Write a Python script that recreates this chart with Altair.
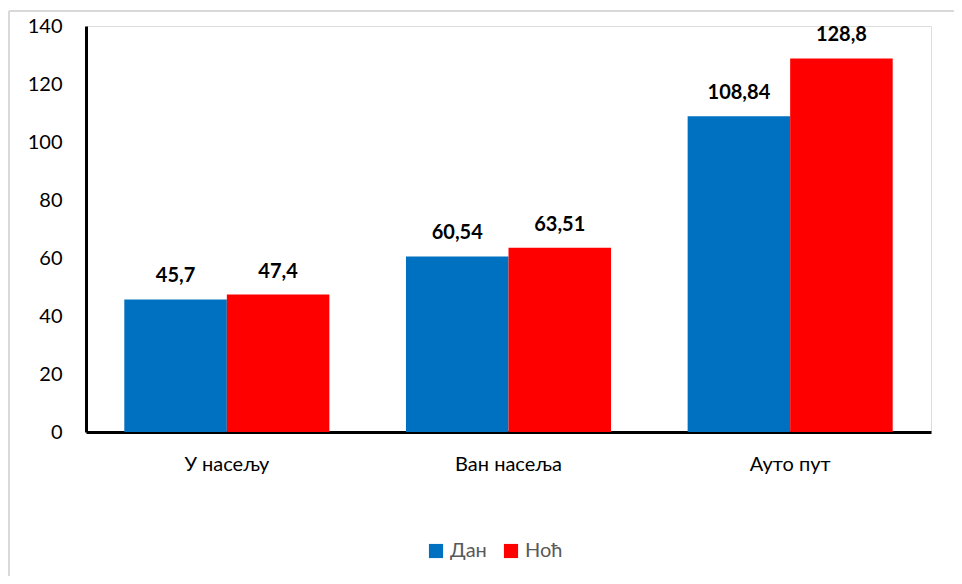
import altair as alt
import pandas as pd

categories = ["У насељу", "Ван насеља", "Ауто пут"]
series = ["Дан", "Ноћ"]
dan = [45.7, 60.54, 108.84]
noc = [47.4, 63.51, 128.8]
y_ticks = [0, 20, 40, 60, 80, 100, 120, 140]
colors = ["#0070C0", "#FF0000"]

rows = []
for c, d, n in zip(categories, dan, noc):
    rows.append({"cat": c, "series": series[0], "value": d})
    rows.append({"cat": c, "series": series[1], "value": n})
df = pd.DataFrame(rows)

W, H = 845, 406
FONT = "Lato"

base = alt.Chart(df).encode(
    x=alt.X("cat:N", sort=categories, title=None,
            scale=alt.Scale(paddingInner=0.272, paddingOuter=0.136),
            axis=alt.Axis(labelAngle=0, labelFontSize=20, labelPadding=22,
                          ticks=False, domainColor="black", domainWidth=3,
                          labelColor="#000000", labelFont=FONT)),
    xOffset=alt.XOffset("series:N", sort=series, scale=alt.Scale(paddingInner=0, paddingOuter=0)),
    y=alt.Y("value:Q", title=None,
            scale=alt.Scale(domain=[0, 140], nice=False),
            axis=alt.Axis(values=y_ticks, grid=False, ticks=False, labelFontSize=20,
                          labelPadding=24, domainColor="black", domainWidth=3,
                          labelColor="#000000", labelFont=FONT)),
)

bars = base.mark_bar().encode(
    color=alt.Color("series:N", sort=series,
                    scale=alt.Scale(domain=series, range=colors),
                    legend=alt.Legend(title=None, orient="none", direction="horizontal",
                                      legendX=340, legendY=515, symbolType="square",
                                      symbolSize=200, symbolStrokeWidth=0,
                                      labelFontSize=20, labelColor="#595959",
                                      labelFont=FONT, columnPadding=14, labelOffset=4))
)

labels = base.transform_calculate(
    lbl="replace(toString(datum.value), '.', ',')"
).mark_text(baseline="bottom", dy=-13, fontSize=20, fontWeight="bold", font=FONT, color="#000000").encode(
    text="lbl:N"
)

frame_top = alt.Chart(df).mark_rule(stroke="#d9d9d9", strokeWidth=2).encode(
    x=alt.value(-77), x2=alt.value(868), y=alt.value(-15)
)
frame_left = alt.Chart(df).mark_rule(stroke="#d9d9d9", strokeWidth=2).encode(
    x=alt.value(-77), y=alt.value(-15), y2=alt.value(550)
)

chart = alt.layer(frame_top, frame_left, bars, labels).properties(
    width=W, height=H,
    autosize=alt.AutoSizeParams(type="none"),
    padding={"left": 78, "top": 18, "right": 23, "bottom": 144},
).configure_view(strokeWidth=0).configure(background="white")

chart.save("out.html", embed_options={"renderer": "svg", "actions": False})
